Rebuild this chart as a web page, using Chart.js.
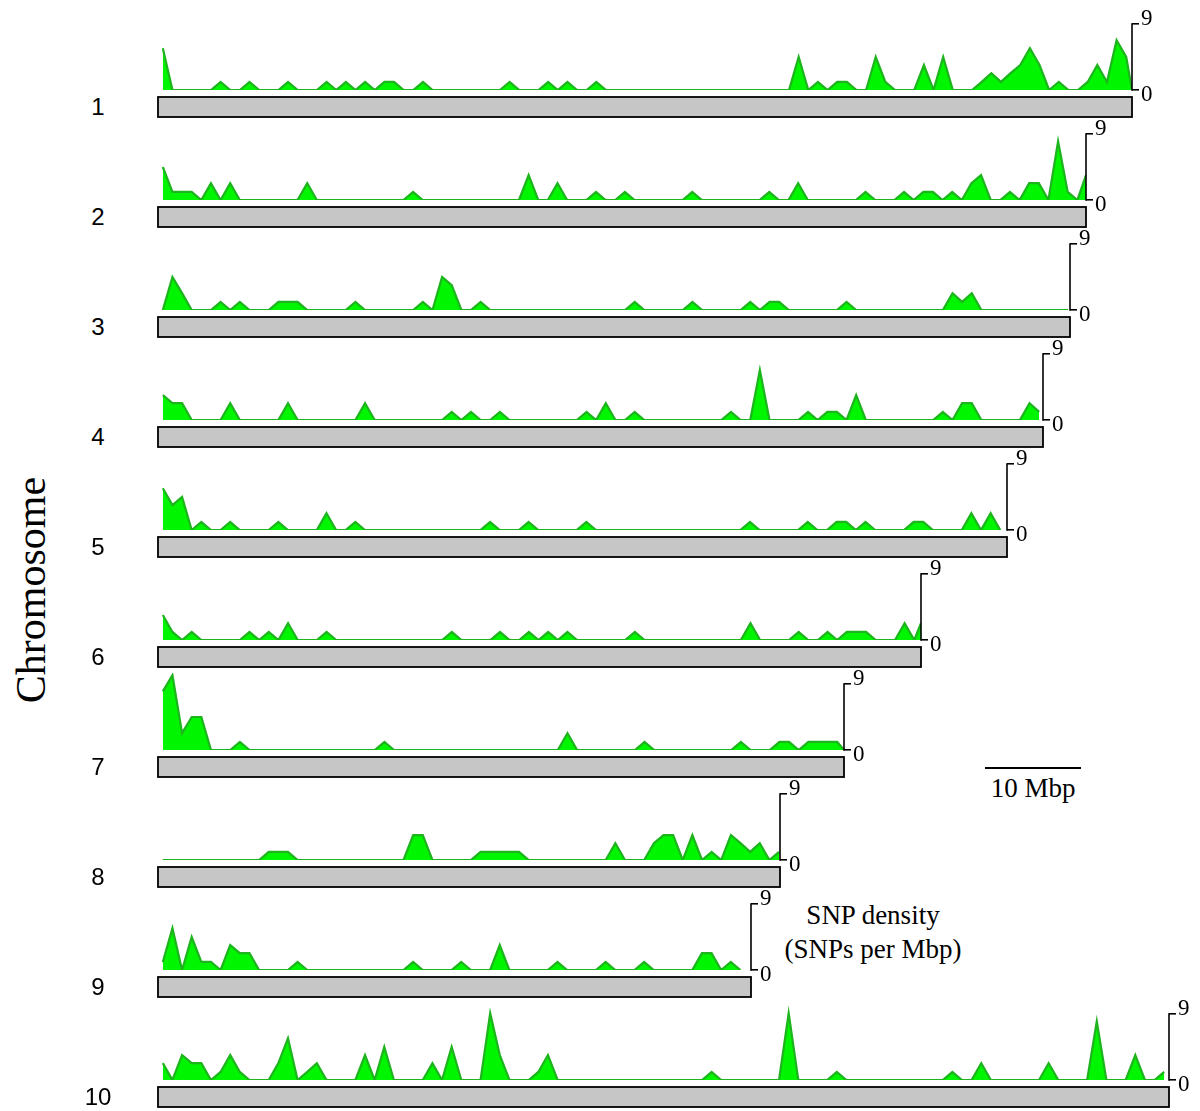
<!DOCTYPE html>
<html>
<head>
<meta charset="utf-8">
<title>SNP density per chromosome</title>
<script src="https://cdn.jsdelivr.net/npm/chart.js@4.4.1/dist/chart.umd.min.js"></script>
<style>
  body { margin: 0; background: #fff; }
  #stage { position: relative; width: 1200px; height: 1111px; overflow: hidden; }
  .row { position: absolute; }
  .chrom-num {
    position: absolute; width: 40px; height: 30px; line-height: 30px; text-align: center;
    font-family: "Liberation Sans", Arial, sans-serif; font-size: 24px; color: #000;
  }
  .serif { position: absolute; font-family: "Liberation Serif", "Times New Roman", serif; color: #000; white-space: nowrap; }
  #ylabel { left: 31px; top: 590px; font-size: 42px; transform: translate(-50%, -50%) rotate(-90deg); }
  #scaleLine { position: absolute; height: 2px; background: #000; }
  #scaleText { font-size: 27px; text-align: center; }
  #densText { font-size: 27px; text-align: center; line-height: 34px; }
</style>
</head>
<body>
<div id="stage">
  <div id="ylabel" class="serif">Chromosome</div>
  <div id="scaleLine"></div>
  <div id="scaleText" class="serif">10 Mbp</div>
  <div id="densText" class="serif">SNP density<br>(SNPs per Mbp)</div>
</div>
<script>
// Chromosome names and lengths (Mbp)
const chromNames = ["1", "2", "3", "4", "5", "6", "7", "8", "9", "10"];
const chromLengths = [101.1, 96.4, 94.7, 91.9, 88.2, 79.2, 71.2, 64.6, 61.6, 105.0];

// SNP density per 1 Mbp window (window k centred at k + 0.5 Mbp)
const snp1 = [5.7,0,0,0,0,0,1.1,0,0,1.1, 0,0,0,1.1,0,0,0,1.1,0,1.1, 0,1.1,0,1.1,1.1,0,0,1.1,0,0,
  0,0,0,0,0,0,1.1,0,0,0, 1.1,0,1.1,0,0,1.1,0,0,0,0, 0,0,0,0,0,0,0,0,0,0,
  0,0,0,0,0,0,4.5,0,1.1,0, 1.1,1.1,0,0,4.5,1.1,0,0,0,3.4, 0,4.5,0,0,0,1.1,2.3,1.1,2.3,3.4,
  5.7,3.4,0,1.1,0,0,1.1,3.4,1.1,6.8, 4.5,0];
const snp2 = [4.5,1.1,1.1,1.1,0,2.3,0,2.3,0,0, 0,0,0,0,0,2.3,0,0,0,0, 0,0,0,0,0,0,1.1,0,0,0,
  0,0,0,0,0,0,0,0,3.4,0, 0,2.3,0,0,0,1.1,0,0,1.1,0, 0,0,0,0,0,1.1,0,0,0,0,
  0,0,0,1.1,0,0,2.3,0,0,0, 0,0,0,1.1,0,0,0,1.1,0,1.1, 1.1,0,1.1,0,2.3,3.4,0,0,1.1,0,
  2.3,2.3,0,8,1.1,0,3.4];
const snp3 = [0,4.5,2.3,0,0,0,1.1,0,1.1,0, 0,0,1.1,1.1,1.1,0,0,0,0,0, 1.1,0,0,0,0,0,0,1.1,0,4.5,
  3.4,0,0,1.1,0,0,0,0,0,0, 0,0,0,0,0,0,0,0,0,1.1, 0,0,0,0,0,1.1,0,0,0,0,
  0,1.1,0,1.1,1.1,0,0,0,0,0, 0,1.1,0,0,0,0,0,0,0,0, 0,0,2.3,1.1,2.3,0,0,0,0,0,
  0,0,0,0,0];
const snp4 = [3.4,2.3,2.3,0,0,0,0,2.3,0,0, 0,0,0,2.3,0,0,0,0,0,0, 0,2.3,0,0,0,0,0,0,0,0,
  1.1,0,1.1,0,0,1.1,0,0,0,0, 0,0,0,0,1.1,0,2.3,0,0,1.1, 0,0,0,0,0,0,0,0,0,1.1,
  0,0,6.8,0,0,0,0,1.1,0,1.1, 1.1,0,3.4,0,0,0,0,0,0,0, 0,1.1,0,2.3,2.3,0,0,0,0,0,
  2.3,1.1];
const snp5 = [5.7,3.4,4.5,0,1.1,0,0,1.1,0,0, 0,0,1.1,0,0,0,0,2.3,0,0, 1.1,0,0,0,0,0,0,0,0,0,
  0,0,0,0,1.1,0,0,0,1.1,0, 0,0,0,0,1.1,0,0,0,0,0, 0,0,0,0,0,0,0,0,0,0,
  0,1.1,0,0,0,0,0,1.1,0,0, 1.1,1.1,0,1.1,0,0,0,0,1.1,1.1, 0,0,0,0,2.3,0,2.3,0];
const snp6 = [3.4,1.1,0,1.1,0,0,0,0,0,1.1, 0,1.1,0,2.3,0,0,0,1.1,0,0, 0,0,0,0,0,0,0,0,0,0,
  1.1,0,0,0,0,1.1,0,0,1.1,0, 1.1,0,1.1,0,0,0,0,0,0,1.1, 0,0,0,0,0,0,0,0,0,0,
  0,2.3,0,0,0,0,1.1,0,0,1.1, 0,1.1,1.1,1.1,0,0,0,2.3,0,2.3];
const snp7 = [8,10.2,2.3,4.5,4.5,0,0,0,1.1,0, 0,0,0,0,0,0,0,0,0,0, 0,0,0,1.1,0,0,0,0,0,0,
  0,0,0,0,0,0,0,0,0,0, 0,0,2.3,0,0,0,0,0,0,0, 1.1,0,0,0,0,0,0,0,0,0,
  1.1,0,0,0,1.1,1.1,0,1.1,1.1,1.1, 1.1,0];
const snp8 = [0,0,0,0,0,0,0,0,0,0, 0,1.1,1.1,1.1,0,0,0,0,0,0, 0,0,0,0,0,0,3.4,3.4,0,0,
  0,0,0,1.1,1.1,1.1,1.1,1.1,0,0, 0,0,0,0,0,0,0,2.3,0,0, 0,2.3,3.4,3.4,0,3.4,0,1.1,0,3.4,
  2.3,1.1,2.3,0,1.1];
const snp9 = [1.1,5.7,0,4.5,1.1,1.1,0,3.4,2.3,2.3, 0,0,0,0,1.1,0,0,0,0,0, 0,0,0,0,0,0,1.1,0,0,0,
  0,1.1,0,0,0,3.4,0,0,0,0, 0,1.1,0,0,0,0,1.1,0,0,0, 1.1,0,0,0,0,0,2.3,2.3,0,1.1, 0];
const snp10 = [2.3,0,3.4,2.3,2.3,0,1.1,3.4,1.1,0, 0,0,2.3,5.7,0,1.1,2.3,0,0,0, 0,3.4,0,4.5,0,0,0,0,2.3,0,
  4.5,0,0,0,9.1,3.4,0,0,0,1.1, 3.4,0,0,0,0,0,0,0,0,0, 0,0,0,0,0,0,0,1.1,0,0,
  0,0,0,0,0,9.1,0,0,0,0, 1.1,0,0,0,0,0,0,0,0,0, 0,0,1.1,0,0,2.3,0,0,0,0,
  0,0,2.3,0,0,0,0,8,0,0, 0,3.4,0,0,1.1];
const snpSeries = [snp1, snp2, snp3, snp4, snp5, snp6, snp7, snp8, snp9, snp10];

// Axis ticks shown on every density axis
const densityTicks = [0, 9];
const scaleBarMbp = 10;

// Layout
const PX_PER_MBP = 9.63;
const X0 = 158;          // pixel of 0 Mbp
const BASE0 = 90;        // baseline of first row
const ROW_GAP = 110;
const Y_PX = 66 / 9;     // px per density unit
const Y_MAX = 10.5;
const PAD_L = 2, PAD_T = 12, PAD_B = 30, AXIS_W = 30;

const stage = document.getElementById('stage');

// gray chromosome bar + bracket axis line
const chromBarPlugin = {
  id: 'chromBar',
  beforeDatasetsDraw(chart, args, opts) {
    const { ctx, chartArea, scales: { x } } = chart;
    const left = x.getPixelForValue(0);
    const right = x.getPixelForValue(opts.length);
    const top = chartArea.bottom + 7;
    ctx.save();
    ctx.fillStyle = '#c6c6c6';
    ctx.strokeStyle = '#000';
    ctx.lineWidth = 1.8;
    ctx.fillRect(left, top, right - left, 20);
    ctx.strokeRect(left, top, right - left, 20);
    ctx.restore();
  },
  afterDraw(chart) {
    const { ctx, chartArea, scales: { y } } = chart;
    ctx.save();
    ctx.strokeStyle = '#000';
    ctx.lineWidth = 1.6;
    ctx.beginPath();
    ctx.moveTo(chartArea.right, y.getPixelForValue(densityTicks[0]) + 0.8);
    ctx.lineTo(chartArea.right, y.getPixelForValue(densityTicks[1]) - 0.8);
    ctx.stroke();
    ctx.restore();
  }
};

snpSeries.forEach((vals, i) => {
  const L = chromLengths[i];
  const points = vals.map((v, k) => ({ x: Math.min(k + 0.5, L), y: v }));
  const areaH = Y_MAX * Y_PX;
  const w = Math.round(PAD_L + L * PX_PER_MBP + AXIS_W);
  const h = Math.round(PAD_T + areaH + PAD_B);

  const row = document.createElement('div');
  row.className = 'row';
  row.style.left = (X0 - PAD_L) + 'px';
  row.style.top = (BASE0 + ROW_GAP * i - areaH - PAD_T) + 'px';
  const canvas = document.createElement('canvas');
  canvas.width = w;
  canvas.height = h;
  row.appendChild(canvas);
  stage.appendChild(row);

  // chromosome number
  const num = document.createElement('div');
  num.className = 'chrom-num';
  num.textContent = chromNames[i];
  num.style.left = '78px';
  num.style.top = (BASE0 + 17 + ROW_GAP * i - 15) + 'px';
  stage.appendChild(num);

  new Chart(canvas, {
    type: 'line',
    data: {
      datasets: [{
        data: points,
        borderColor: '#1db41d',
        borderWidth: 2.2,
        backgroundColor: '#00f500',
        fill: 'origin',
        pointRadius: 0,
        tension: 0
      }]
    },
    options: {
      responsive: false,
      animation: false,
      events: [],
      layout: { padding: { left: PAD_L, top: PAD_T, right: 0, bottom: PAD_B } },
      scales: {
        x: { type: 'linear', min: 0, max: L, display: false },
        y: {
          position: 'right',
          min: 0,
          max: Y_MAX,
          afterBuildTicks: (axis) => { axis.ticks = densityTicks.map(v => ({ value: v })); },
          afterFit: (axis) => { axis.width = AXIS_W; },
          border: { display: false },
          grid: { drawOnChartArea: false, drawTicks: true, tickLength: 7, color: '#000', lineWidth: 1.6 },
          ticks: {
            color: '#000',
            padding: 2,
            font: { family: '"Liberation Serif", "Times New Roman", serif', size: 23, lineHeight: 0.42 },
            // nudge "9" up and "0" down like the original
            callback: (value) => value === densityTicks[1] ? [String(value), ''] : ['', String(value)]
          }
        }
      },
      plugins: {
        legend: { display: false },
        tooltip: { enabled: false },
        chromBar: { length: L }
      }
    },
    plugins: [chromBarPlugin]
  });
});

// 10 Mbp scale bar
const scaleLine = document.getElementById('scaleLine');
scaleLine.style.left = '985px';
scaleLine.style.top = '767px';
scaleLine.style.width = (scaleBarMbp * PX_PER_MBP) + 'px';
const scaleText = document.getElementById('scaleText');
scaleText.style.left = '975px';
scaleText.style.top = '773px';
scaleText.style.width = (scaleBarMbp * PX_PER_MBP + 20) + 'px';

const densText = document.getElementById('densText');
densText.style.left = '763px';
densText.style.width = '220px';
densText.style.top = '898px';
</script>
</body>
</html>
